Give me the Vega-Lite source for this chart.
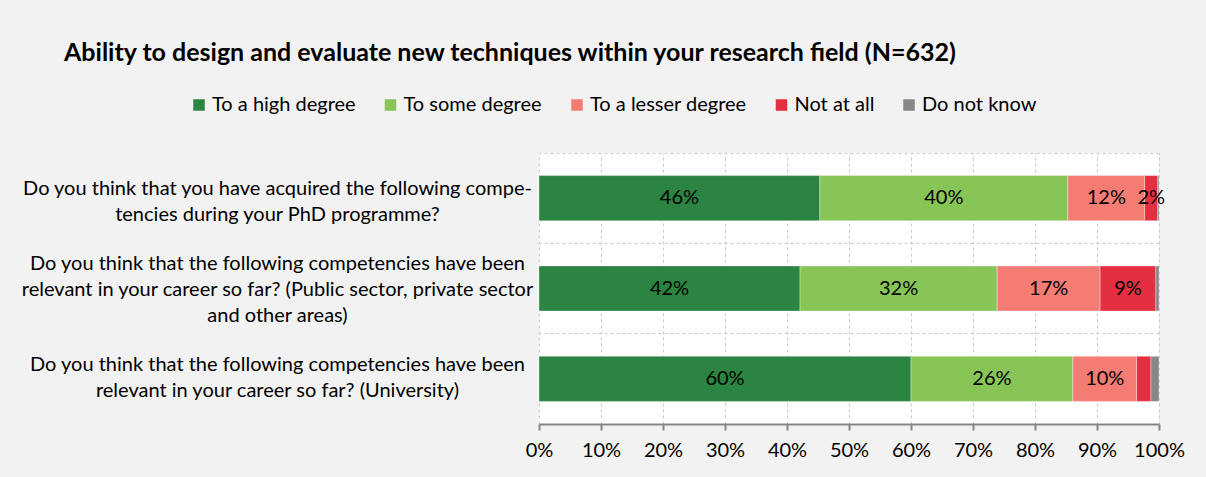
{
  "$schema": "https://vega.github.io/schema/vega-lite/v6.json",
  "autosize": "none",
  "width": 620,
  "height": 271,
  "padding": {"left": 539, "top": 153, "right": 47, "bottom": 53},
  "background": "#f2f2f2",
  "title": {
    "text": "Ability to design and evaluate new techniques within your research field (N=632)",
    "anchor": "start",
    "frame": "group",
    "dx": -475,
    "offset": 29,
    "fontSize": 25,
    "font": "Lato",
    "fontWeight": "bold",
    "color": "#000000"
  },
  "data": {
    "values": [
      {"q": "Do you think that you have acquired the following compe-|tencies during your PhD programme?", "qi": 1, "cat": "To a high degree", "o": 1, "v": 45.3, "label": "46%"},
      {"q": "Do you think that you have acquired the following compe-|tencies during your PhD programme?", "qi": 1, "cat": "To some degree", "o": 2, "v": 40.0, "label": "40%"},
      {"q": "Do you think that you have acquired the following compe-|tencies during your PhD programme?", "qi": 1, "cat": "To a lesser degree", "o": 3, "v": 12.4, "label": "12%"},
      {"q": "Do you think that you have acquired the following compe-|tencies during your PhD programme?", "qi": 1, "cat": "Not at all", "o": 4, "v": 2.1, "label": "2%"},
      {"q": "Do you think that you have acquired the following compe-|tencies during your PhD programme?", "qi": 1, "cat": "Do not know", "o": 5, "v": 0.2, "label": ""},
      {"q": "Do you think that the following competencies have been|relevant in your career so far? (Public sector, private sector|and other areas)", "qi": 2, "cat": "To a high degree", "o": 1, "v": 42.1, "label": "42%"},
      {"q": "Do you think that the following competencies have been|relevant in your career so far? (Public sector, private sector|and other areas)", "qi": 2, "cat": "To some degree", "o": 2, "v": 31.8, "label": "32%"},
      {"q": "Do you think that the following competencies have been|relevant in your career so far? (Public sector, private sector|and other areas)", "qi": 2, "cat": "To a lesser degree", "o": 3, "v": 16.6, "label": "17%"},
      {"q": "Do you think that the following competencies have been|relevant in your career so far? (Public sector, private sector|and other areas)", "qi": 2, "cat": "Not at all", "o": 4, "v": 9.0, "label": "9%"},
      {"q": "Do you think that the following competencies have been|relevant in your career so far? (Public sector, private sector|and other areas)", "qi": 2, "cat": "Do not know", "o": 5, "v": 0.5, "label": ""},
      {"q": "Do you think that the following competencies have been|relevant in your career so far? (University)", "qi": 3, "cat": "To a high degree", "o": 1, "v": 60.0, "label": "60%"},
      {"q": "Do you think that the following competencies have been|relevant in your career so far? (University)", "qi": 3, "cat": "To some degree", "o": 2, "v": 26.1, "label": "26%"},
      {"q": "Do you think that the following competencies have been|relevant in your career so far? (University)", "qi": 3, "cat": "To a lesser degree", "o": 3, "v": 10.3, "label": "10%"},
      {"q": "Do you think that the following competencies have been|relevant in your career so far? (University)", "qi": 3, "cat": "Not at all", "o": 4, "v": 2.3, "label": ""},
      {"q": "Do you think that the following competencies have been|relevant in your career so far? (University)", "qi": 3, "cat": "Do not know", "o": 5, "v": 1.3, "label": ""}
    ]
  },
  "config": {
    "font": "Lato",
    "view": {"fill": "#ffffff", "stroke": null},
    "axis": {"labelFont": "Lato", "labelColor": "#000000"}
  },
  "encoding": {
    "y": {
      "field": "q",
      "type": "nominal",
      "sort": {"field": "qi", "op": "min"},
      "scale": {"paddingInner": 0, "paddingOuter": 0}
    },
    "x": {
      "field": "v",
      "type": "quantitative",
      "stack": "zero",
      "scale": {"domain": [0, 100], "nice": false}
    },
    "order": {"field": "o", "type": "quantitative"}
  },
  "layer": [
    {
      "mark": {"type": "bar", "height": {"band": 0.5}, "stroke": "#ffffff", "strokeWidth": 0.6, "strokeOpacity": 0.6},
      "encoding": {
        "x": {
          "field": "v",
          "type": "quantitative",
          "stack": "zero",
          "scale": {"domain": [0, 100], "nice": false},
          "axis": {
            "title": null,
            "values": [0, 10, 20, 30, 40, 50, 60, 70, 80, 90, 100],
            "labelExpr": "datum.value + '%'",
            "labelFontSize": 20,
            "labelPadding": 10,
            "labelOverlap": false,
            "labelFlush": false,
            "grid": true,
            "gridColor": "#c8c8c8",
            "gridDash": [3, 3],
            "gridWidth": 1,
            "domainColor": "#868686",
            "domainWidth": 2,
            "tickColor": "#868686",
            "tickWidth": 2,
            "tickSize": 6
          }
        },
        "y": {
          "field": "q",
          "type": "nominal",
          "sort": {"field": "qi", "op": "min"},
          "scale": {"paddingInner": 0, "paddingOuter": 0},
          "axis": {
            "title": null,
            "labelExpr": "split(datum.label, '|')",
            "labelAlign": "center",
            "labelBaseline": "middle",
            "labelPadding": 262,
            "labelFontSize": 20,
            "labelLineHeight": 26,
            "labelLimit": 0,
            "labelOffset": {
              "condition": [
                {"test": "indexof(datum.label, 'other areas') >= 0", "value": -25},
                {"test": "indexof(datum.label, 'PhD') >= 0", "value": -9}
              ],
              "value": -14
            },
            "ticks": false,
            "domain": false,
            "grid": false
          }
        },
        "color": {
          "field": "cat",
          "type": "nominal",
          "sort": ["To a high degree", "To some degree", "To a lesser degree", "Not at all", "Do not know"],
          "scale": {
            "domain": ["To a high degree", "To some degree", "To a lesser degree", "Not at all", "Do not know"],
            "range": ["#2b8441", "#88c557", "#f47c73", "#e32f3f", "#87878a"]
          },
          "legend": {
            "title": null,
            "orient": "none",
            "direction": "horizontal",
            "legendX": -350,
            "legendY": -58,
            "symbolType": "square",
            "symbolSize": 132,
            "symbolStrokeWidth": 0,
            "symbolOpacity": 1,
            "labelFontSize": 20,
            "labelFont": "Lato",
            "labelColor": "#000000",
            "labelOffset": 3,
            "columnPadding": 24.5,
            "labelLimit": 0
          }
        }
      }
    },
    {
      "mark": {"type": "text", "fontSize": 20, "color": "#000000", "baseline": "middle", "align": "center"},
      "encoding": {
        "x": {"field": "v", "type": "quantitative", "stack": "zero", "bandPosition": 0.5},
        "text": {"field": "label"},
        "y": {
          "field": "q",
          "type": "nominal",
          "sort": {"field": "qi", "op": "min"},
          "axis": {
            "orient": "right",
            "title": null,
            "labels": false,
            "ticks": false,
            "domain": false,
            "grid": true,
            "bandPosition": 0,
            "gridColor": "#c8c8c8",
            "gridDash": [3, 3],
            "gridWidth": 1
          }
        }
      }
    }
  ],
  "resolve": {"axis": {"y": "independent"}}
}
